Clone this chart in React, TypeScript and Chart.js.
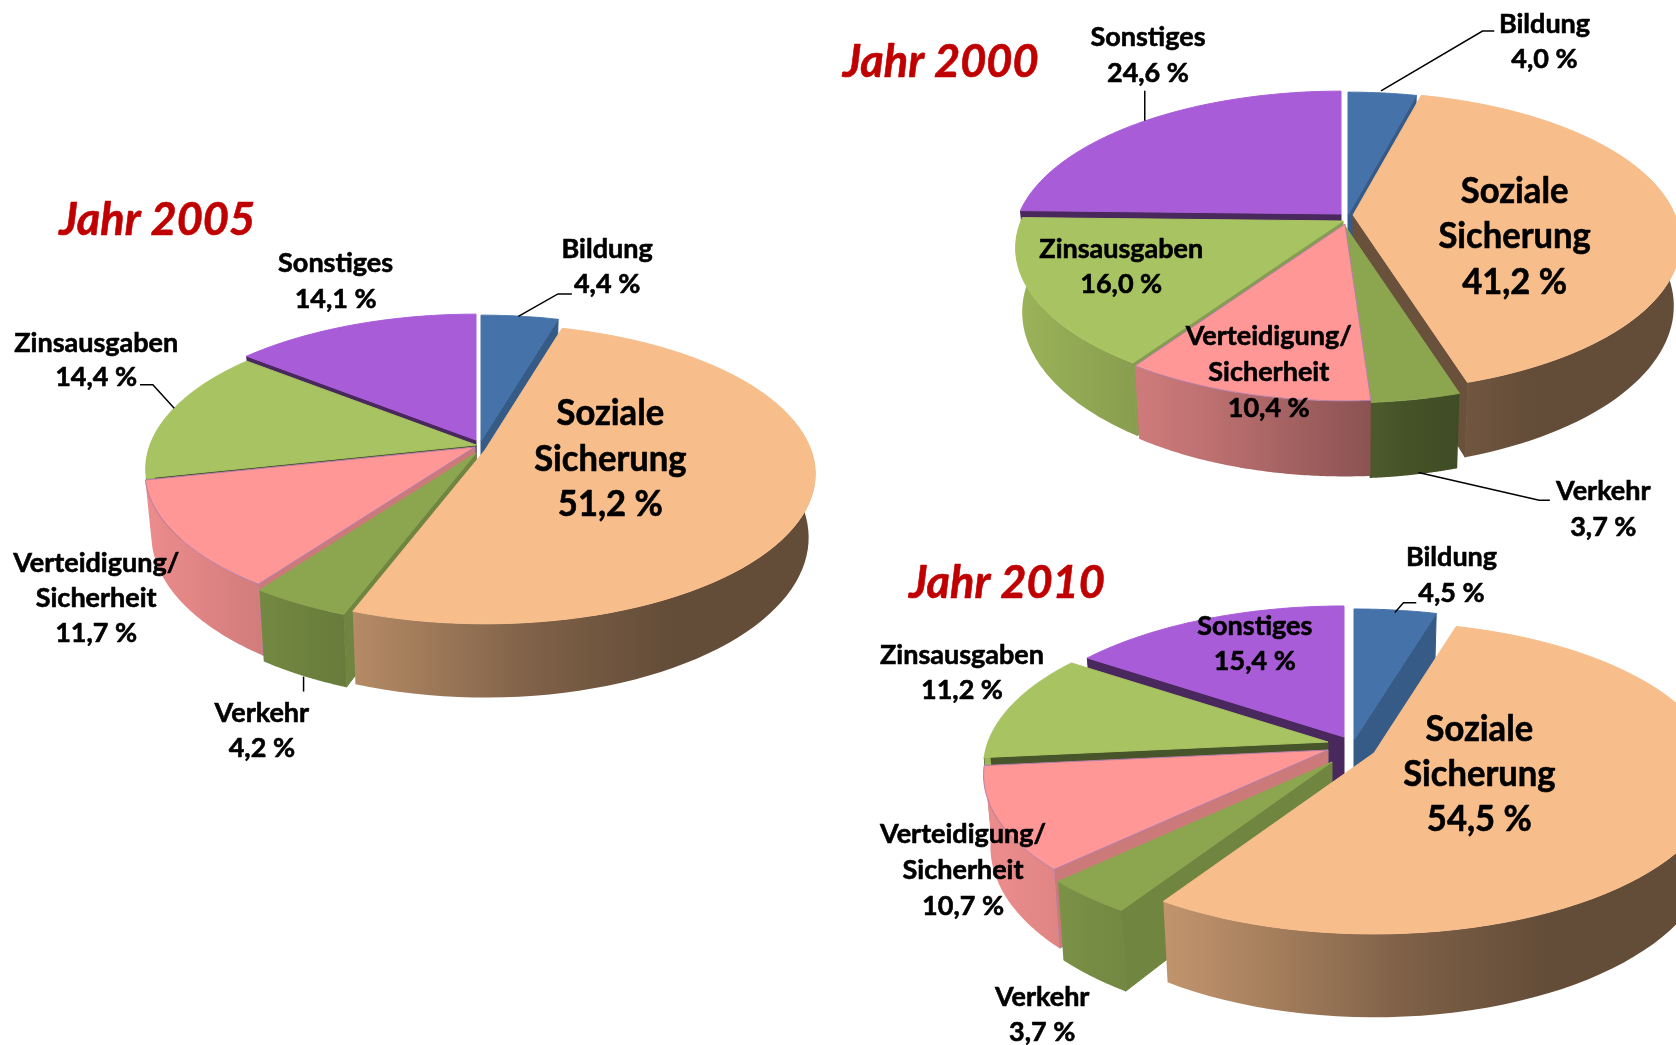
import React, { useEffect, useRef } from "react";
import { Chart, registerables } from "chart.js";

Chart.register(...registerables);

const categories = ["Bildung", "Soziale Sicherung", "Verkehr", "Verteidigung/Sicherheit", "Zinsausgaben", "Sonstiges"];
const values2000 = [4.0, 41.2, 3.7, 10.4, 16.0, 24.6];
const values2005 = [4.4, 51.2, 4.2, 11.7, 14.4, 14.1];
const values2010 = [4.5, 54.5, 3.7, 10.7, 11.2, 15.4];
const sliceColors = ["#4472A9", "#F7BD8B", "#8CA650", "#FF9797", "#A8C361", "#A95CD8"];

const W = 1676;
const H = 1045;
const M = 200; // canvases overhang the page so pies may be cut by its edge
const S = 1676 / 1568;
const RED = "#C00000";
const TAPER = 0.02; // the lower rim lies farther from the viewer

type LabelDef = { lines: string[]; x: number; ys: number[]; big?: boolean };

const fmt = (v: number) => v.toFixed(1).replace(".", ",") + " %";

function labelsFor(vals: number[], pos: number[][]): LabelDef[] {
  const names = [["Bildung"], ["Soziale", "Sicherung"], ["Verkehr"], ["Verteidigung/", "Sicherheit"], ["Zinsausgaben"], ["Sonstiges"]];
  return names.map((n, i) => {
    const [x, y0, step] = pos[i];
    const lines = [...n, fmt(vals[i])];
    return { lines, x: x * S, ys: lines.map((_, k) => (y0 + k * step) * S + 1), big: i === 1 };
  });
}

const pies = [
  {
    year: "Jahr 2000", values: values2000, titlePos: [880, 58],
    cx: 1340, cy: 219, R: 322, ky: 145, p: 0.18, h: 62,
    shifts: [[8, -4], [13, -4], [5, 7], [5, 5], [3, 2], [1, -5]],
    labels: [[1445, 22, 32.5], [1417, 178, 42.5], [1500, 459, 33], [1187, 314, 33.5], [1049, 232, 33], [1074, 34, 34]],
    leaders: [[[1292, 85], [1387, 29], [1398, 29]], [[1071, 85], [1071, 113]], [[1327, 442], [1440, 468], [1450, 468]]],
  },
  {
    year: "Jahr 2005", values: values2005, titlePos: [147, 206],
    cx: 478, cy: 444, R: 326, ky: 146, p: 0.16, h: 62,
    shifts: [[3, -3], [7, 6], [-2, 9], [-3, 3], [-2, 1], [-2, -4]],
    labels: [[568, 232, 33], [571, 386, 42.5], [245, 666, 33], [90, 526, 33], [90, 320, 32], [314, 245, 34]],
    leaders: [[[485, 296], [522, 275], [535, 275]], [[131, 360], [143, 360], [163, 382]], [[284, 633], [284, 647]]],
  },
  {
    year: "Jahr 2010", values: values2010, titlePos: [942, 546],
    cx: 1345, cy: 757, R: 340, ky: 152, p: 0.16, h: 70,
    shifts: [[9, -17], [29, -4], [-13, 5], [-17, -7], [-17, -15], [-1, -20]],
    labels: [[1358, 520, 34], [1384, 681, 42.5], [975, 932, 33], [901, 780, 33.5], [900, 612, 33], [1174, 585, 33]],
    leaders: [[[1305, 573], [1313, 564], [1325, 564]]],
  },
];

function shade(hex: string, k: number) {
  const n = parseInt(hex.slice(1), 16);
  const r = Math.round(((n >> 16) & 255) * k);
  const g = Math.round(((n >> 8) & 255) * k);
  const b = Math.round((n & 255) * k);
  return `rgb(${r},${g},${b})`;
}

const pie3d = {
  id: "pie3d",
  beforeDatasetsDraw(chart: any, _args: any, o: any) {
    const ctx = chart.ctx as CanvasRenderingContext2D;
    const arcs = chart.getDatasetMeta(0).data as any[];
    const { ky, p, h, shifts } = o;
    // back slices first; the slice holding the front-most point of the pie last
    const nearest = (el: any) => {
      const a0 = el.startAngle, a1 = el.endAngle;
      const hasFront = a0 <= Math.PI / 2 && a1 >= Math.PI / 2;
      return hasFront ? 2 : Math.max(Math.sin(a0), Math.sin(a1));
    };
    const order = arcs.map((_, i) => i).sort((a, b) => nearest(arcs[a]) - nearest(arcs[b]));
    for (const i of order) {
      const el = arcs[i];
      const { x: cx, y: cy, outerRadius: R, startAngle: a0, endAngle: a1 } = el;
      const base = el.options.backgroundColor as string;
      const [sx, sy] = shifts[i];
      const pt = (a: number, z: number) => {
        const u = Math.cos(a), v = Math.sin(a);
        const f = 1 / (1 - p * v);
        return [cx + sx + R * u * f * (1 - z * TAPER), cy + sy + ky * v * f + z * h * f];
      };
      const apex = (z: number) => [cx + sx, cy + sy + z * h];
      const N = 80;
      const rim: number[] = [];
      for (let k = 0; k <= N; k++) rim.push(a0 + ((a1 - a0) * k) / N);
      const poly = (pts: number[][], fill: any, stroke?: string) => {
        ctx.beginPath();
        pts.forEach((q, k) => (k ? ctx.lineTo(q[0], q[1]) : ctx.moveTo(q[0], q[1])));
        ctx.closePath();
        ctx.fillStyle = fill;
        ctx.fill();
        ctx.lineWidth = 1;
        ctx.strokeStyle = stroke || fill;
        ctx.stroke();
      };
      const edge = i === 3 ? "#B57FA8" : undefined;
      const faceShade = (nu: number) => shade(base, nu > 0.5 ? 0.8 : 0.43);
      if (Math.cos(a0) < -1e-6) {
        poly([apex(0), pt(a0, 0), pt(a0, 1), apex(1)], faceShade(Math.sin(a0)), edge);
      }
      if (Math.cos(a1) > 1e-6) {
        poly([apex(0), pt(a1, 0), pt(a1, 1), apex(1)], faceShade(-Math.sin(a1)), edge);
      }
      const front = rim.filter((a) => Math.sin(a) >= -0.02);
      if (front.length > 1) {
        const g = ctx.createLinearGradient(cx - R, 0, cx + R, 0);
        g.addColorStop(0, shade(base, 0.92));
        g.addColorStop(0.3, shade(base, 0.74));
        g.addColorStop(0.6, shade(base, 0.5));
        g.addColorStop(0.8, shade(base, 0.4));
        g.addColorStop(1, shade(base, 0.4));
        poly([...front.map((a) => pt(a, 0)), ...front.slice().reverse().map((a) => pt(a, 1))], g, "rgba(0,0,0,0)");
      }
      poly([apex(0), ...rim.map((a) => pt(a, 0))], base, edge);
    }
    return false;
  },
  afterDraw(chart: any, _args: any, o: any) {
    const ctx = chart.ctx as CanvasRenderingContext2D;
    ctx.save();
    ctx.translate(M, M);
    ctx.strokeStyle = "#000";
    ctx.lineWidth = 1.5;
    for (const line of o.leaders as number[][][]) {
      ctx.beginPath();
      line.forEach((q, k) => (k ? ctx.lineTo(q[0] * S, q[1] * S) : ctx.moveTo(q[0] * S, q[1] * S)));
      ctx.stroke();
    }
    ctx.textAlign = "center";
    ctx.textBaseline = "middle";
    const text = (t: string, x: number, y: number, font: string, color: string, sx: number) => {
      ctx.save();
      ctx.translate(x, y);
      ctx.scale(sx, 1);
      ctx.font = font;
      ctx.fillStyle = color;
      ctx.strokeStyle = color;
      ctx.lineWidth = 0.6;
      ctx.lineJoin = "round";
      ctx.fillText(t, 0, 0);
      ctx.strokeText(t, 0, 0);
      ctx.restore();
    };
    for (const l of o.labelDefs as LabelDef[]) {
      l.lines.forEach((t, k) => {
        if (l.big) text(t, l.x, l.ys[k], "bold 36px Lato", "#000", 0.96);
        else text(t, l.x, l.ys[k], "bold 27px Lato", "#000", 1);
      });
    }
    text(o.year, o.titlePos[0] * S, o.titlePos[1] * S, "italic bold 46px Lato", RED, 0.98);
    ctx.restore();
  },
};

function Pie({ cfg }: { cfg: (typeof pies)[number] }) {
  const ref = useRef<HTMLCanvasElement>(null);
  useEffect(() => {
    const { cx, cy, R } = cfg;
    const chart = new Chart(ref.current!, {
      type: "pie",
      data: {
        labels: categories,
        datasets: [{ data: cfg.values, backgroundColor: sliceColors, borderWidth: 0 }],
      },
      options: {
        responsive: false,
        animation: false,
        events: [],
        layout: {
          padding: { left: cx - R + M, right: W + M - cx - R, top: cy - R + M, bottom: H + M - cy - R },
        },
        plugins: {
          legend: { display: false },
          title: { display: false },
          tooltip: { enabled: false },
          pie3d: {
            ky: cfg.ky, p: cfg.p, h: cfg.h, shifts: cfg.shifts,
            leaders: cfg.leaders, year: cfg.year, titlePos: cfg.titlePos,
            labelDefs: labelsFor(cfg.values, cfg.labels),
          },
        },
      } as any,
      plugins: [pie3d as any],
    });
    return () => chart.destroy();
  }, [cfg]);
  return (
    <canvas
      ref={ref}
      width={W + 2 * M}
      height={H + 2 * M}
      style={{ position: "absolute", left: -M, top: -M, width: W + 2 * M, height: H + 2 * M, display: "block" }}
    />
  );
}

export default function App() {
  return (
    <div style={{ position: "fixed", left: 0, top: 0, width: W, height: H, background: "#fff", overflow: "hidden" }}>
      {pies.map((c) => (
        <Pie key={c.year} cfg={c} />
      ))}
    </div>
  );
}
